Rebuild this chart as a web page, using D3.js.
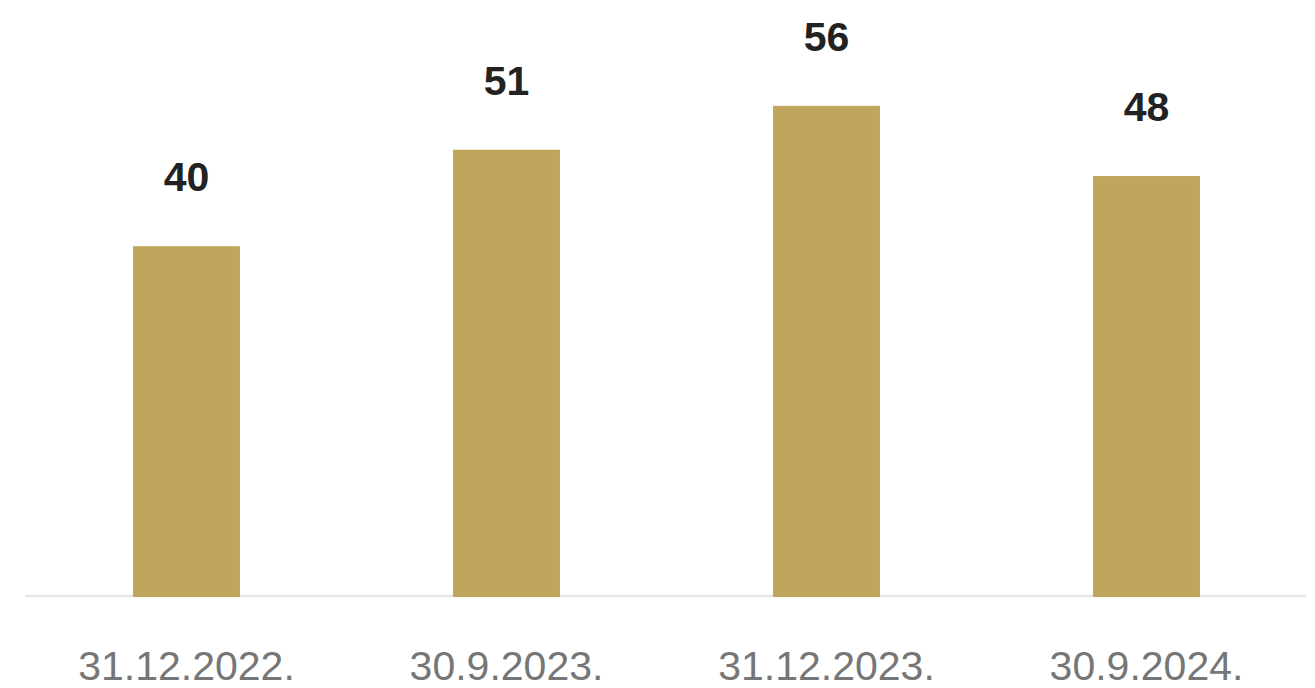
<!DOCTYPE html>
<html>
<head>
  <meta charset="utf-8">
  <script src="https://d3js.org/d3.v7.min.js"></script>
  <style>
    body { margin: 0; background: #fff; }
    .value { font-family: "Liberation Sans", Arial, sans-serif; font-weight: bold; font-size: 41px; fill: #222; text-anchor: middle; }
    .tick text { font-family: "Liberation Sans", Arial, sans-serif; font-size: 41px; fill: #767676; }
  </style>
</head>
<body>
  <script>
    // data
    var categories = ["31.12.2022.", "30.9.2023.", "31.12.2023.", "30.9.2024."];
    var values = [40, 51, 56, 48];

    var width = 1315, height = 688;
    var baseline = 597;

    var svg = d3.select("body").append("svg")
        .attr("width", width)
        .attr("height", height);

    var x = d3.scaleBand()
        .domain(categories)
        .range([26.5, 1306.5])
        .paddingInner(0.666)
        .paddingOuter(0.333);

    // 0 at baseline, ~8.77 px per unit
    var y = d3.scaleLinear()
        .domain([0, 60])
        .range([baseline, baseline - 60 * 8.77]);

    // axis line
    svg.append("line")
        .attr("x1", 25).attr("x2", 1306)
        .attr("y1", 596).attr("y2", 596)
        .attr("stroke", "#e6e6e6")
        .attr("stroke-width", 2.5);

    svg.selectAll(".bar")
        .data(values)
      .enter().append("rect")
        .attr("class", "bar")
        .attr("x", function(d, i) { return x(categories[i]); })
        .attr("y", function(d) { return y(d); })
        .attr("width", x.bandwidth())
        .attr("height", function(d) { return y(0) - y(d); })
        .attr("fill", "#c1a55d");

    svg.selectAll(".value")
        .data(values)
      .enter().append("text")
        .attr("class", "value")
        .attr("x", function(d, i) { return x(categories[i]) + x.bandwidth() / 2; })
        .attr("y", function(d) { return y(d) - 55; })
        .text(function(d) { return d; });

    var axis = svg.append("g")
        .attr("transform", "translate(0," + baseline + ")")
        .call(d3.axisBottom(x).tickSize(0).tickPadding(0));
    axis.select(".domain").remove();
    axis.selectAll(".tick text").attr("dy", null).attr("y", 83);
  </script>
</body>
</html>
